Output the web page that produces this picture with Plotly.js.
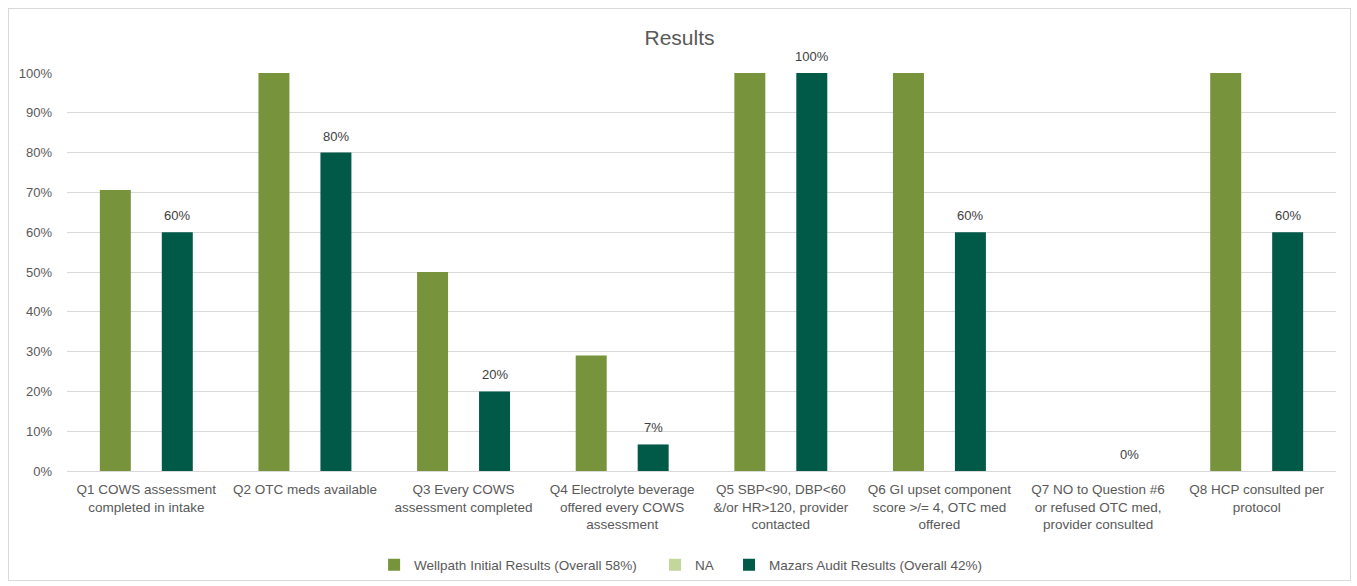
<!DOCTYPE html>
<html>
<head>
<meta charset="utf-8">
<script src="https://cdn.plot.ly/plotly-3.0.1.min.js"></script>
<style>
html,body{margin:0;padding:0;background:#fff;}
#frame{position:absolute;left:8px;top:8px;width:1341px;height:571px;border:1px solid #d9d9d9;}
#chart{width:1341px;height:571px;}
</style>
</head>
<body>
<div id="frame"><div id="chart"></div></div>
<script>
var categories = [
  "Q1 COWS assessment<br>completed in intake",
  "Q2 OTC meds available",
  "Q3 Every COWS<br>assessment completed",
  "Q4 Electrolyte beverage<br>offered every COWS<br>assessment",
  "Q5 SBP&lt;90, DBP&lt;60<br>&amp;/or HR&gt;120, provider<br>contacted",
  "Q6 GI upset component<br>score &gt;/= 4, OTC med<br>offered",
  "Q7 NO to Question #6<br>or refused OTC med,<br>provider consulted",
  "Q8 HCP consulted per<br>protocol"
];
var wellpath = [0.706, 1.0, 0.5, 0.29, 1.0, 1.0, null, 1.0];
var naValues = [null, null, null, null, null, null, null, null];
var mazars = [0.6, 0.8, 0.2, 0.0667, 1.0, 0.6, 0.0, 0.6];
var seriesNames = ["Wellpath Initial Results (Overall 58%)", "NA", "Mazars Audit Results (Overall 42%)"];

var traces = [
  {type:'bar', name:seriesNames[0], x:categories, y:wellpath, marker:{color:'#77933C'}, legend:'legend'},
  {type:'bar', name:seriesNames[1], x:categories, y:naValues, marker:{color:'#C3D69B'}, legend:'legend2'},
  {type:'bar', name:seriesNames[2], x:categories, y:mazars, marker:{color:'#005A47'}, legend:'legend3'}
];

// data labels for the Mazars series, placed above each bar (third of three bars in each group)
var annotations = mazars.map(function(v, i){
  return {
    x: i, xref:'x', y: v, yref:'y',
    xshift: 31,
    text: Math.round(v*100) + '%',
    showarrow:false, yanchor:'bottom', xanchor:'center', yshift:7,
    font:{family:'Liberation Sans, Arial, sans-serif', size:13, color:'#404040'}
  };
});

function legendAt(xp){
  return {orientation:'h', x:xp, xanchor:'left', y:-0.236, yanchor:'middle',
          font:{size:13.5, color:'#595959'}, itemwidth:30, bgcolor:'rgba(0,0,0,0)'};
}

var layout = {
  width:1341, height:571,
  margin:{l:58, r:14, t:64, b:109, autoexpand:false},
  paper_bgcolor:'rgba(0,0,0,0)', plot_bgcolor:'#fff',
  font:{family:'Liberation Sans, Arial, sans-serif', size:13, color:'#595959'},
  title:{text:'Results', font:{size:21, color:'#595959'}, x:0.5, xanchor:'center', y:0.95, yanchor:'middle', yref:'container'},
  barmode:'group', bargap:0.414, bargroupgap:0,
  xaxis:{type:'category', showgrid:false, ticks:'', showline:true, linecolor:'#d9d9d9', linewidth:1,
         tickfont:{size:13.5, color:'#595959'}, tickangle:0, automargin:false, ticklabelstandoff:6},
  yaxis:{range:[0,1], dtick:0.1, tickformat:'.0%', showgrid:true, gridcolor:'#d9d9d9', gridwidth:1,
         zeroline:false, ticks:'', ticklabelstandoff:14, tickfont:{size:13, color:'#595959'}, automargin:false},
  annotations: annotations,
  showlegend:true,
  legend: legendAt(0.2420),
  legend2: legendAt(0.4634),
  legend3: legendAt(0.5217)
};

Plotly.newPlot('chart', traces, layout, {displayModeBar:false, staticPlot:true});
</script>
</body>
</html>
